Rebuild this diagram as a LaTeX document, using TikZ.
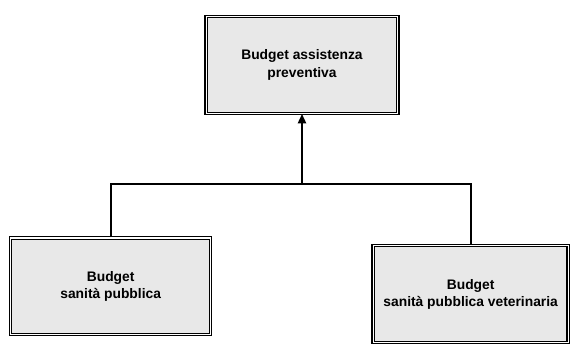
\documentclass[tikz,border=0pt]{standalone}
\usepackage{fontspec}
\setmainfont{Liberation Sans}
\usetikzlibrary{arrows.meta,positioning}

\begin{document}
\begin{tikzpicture}[>=Latex,
 box/.style={draw,double,double distance=0.9pt,line width=1.1pt,fill=black!9,align=center,
   font=\fontsize{11.8}{14.5}\selectfont\bfseries,inner sep=2pt},
 link/.style={line width=1.5pt}]
\useasboundingbox (0,0) rectangle (17.28,10.53);
\node[box,minimum width=5.75cm,minimum height=2.9cm] (prev) at (9.06,8.58) {Budget assistenza\\[1.5pt]preventiva};
\node[box,minimum width=6.0cm,minimum height=2.9cm] (sp) at (3.32,1.94) {Budget\\sanità pubblica};
\node[box,minimum width=5.85cm,minimum height=2.9cm] (vet) at (14.12,1.71) {Budget\\sanità pubblica veterinaria};
% junction on the horizontal bar
\coordinate (bar) at (9.06,5.01);
\draw[link] (sp.north) |- (bar) -| (vet.north);
\draw[link,-{Triangle[width=7pt,length=8pt]}] (bar) -- (prev.south);
\end{tikzpicture}
\end{document}
